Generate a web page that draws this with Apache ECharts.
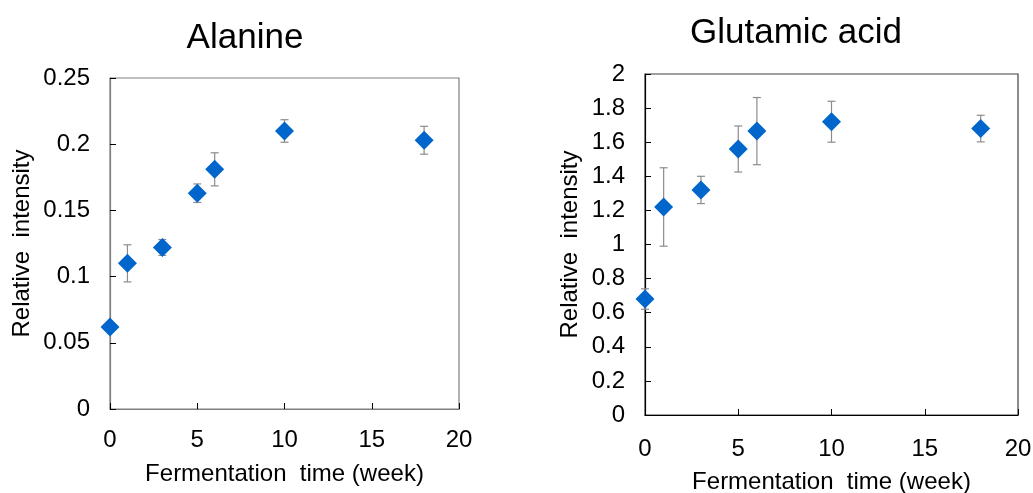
<!DOCTYPE html>
<html>
<head>
<meta charset="utf-8">
<script src="https://cdn.jsdelivr.net/npm/echarts@6/dist/echarts.min.js"></script>
<style>html,body{margin:0;padding:0;background:#fff;}#c{width:1033px;height:493px;}</style>
</head>
<body>
<div id="c"></div>
<script>
const weeks = [0, 1, 3, 5, 6, 10, 18];
const alanineMean = [0.062, 0.110, 0.122, 0.163, 0.181, 0.210, 0.203];
const alanineErr  = [0.002, 0.014, 0.006, 0.007, 0.0125, 0.0085, 0.0105];
const glutamicMean = [0.68, 1.22, 1.32, 1.56, 1.665, 1.72, 1.68];
const glutamicErr  = [0.06, 0.23, 0.08, 0.135, 0.197, 0.12, 0.078];
const titles = ['Alanine', 'Glutamic acid'];
const xName = 'Fermentation  time (week)';
const yName = 'Relative  intensity';

const FONT = 'Liberation Sans, Arial, sans-serif';
const FS = 24;
const chart = echarts.init(document.getElementById('c'));

function errSeries(gi, mean, err) {
  return {
    type: 'custom', xAxisIndex: gi, yAxisIndex: gi, z: 1,
    data: weeks.map((w, i) => [w, mean[i] - err[i], mean[i] + err[i]]),
    renderItem: function (params, api) {
      const x = api.value(0);
      const lo = api.coord([x, api.value(1)]);
      const hi = api.coord([x, api.value(2)]);
      const cw = 4;
      const st = { stroke: '#8c8c8c', lineWidth: 1.2 };
      return {
        type: 'group', children: [
          { type: 'line', shape: { x1: lo[0], y1: lo[1], x2: hi[0], y2: hi[1] }, style: st },
          { type: 'line', shape: { x1: lo[0] - cw, y1: lo[1], x2: lo[0] + cw, y2: lo[1] }, style: st },
          { type: 'line', shape: { x1: hi[0] - cw, y1: hi[1], x2: hi[0] + cw, y2: hi[1] }, style: st }
        ]
      };
    }
  };
}

function yAxis(gi, max, interval, gap, axisColor) {
  return {
    gridIndex: gi, type: 'value', min: 0, max: max, interval: interval,
    name: yName, nameLocation: 'middle', nameGap: gap, nameRotate: 90,
    nameTextStyle: { fontFamily: FONT, fontSize: FS, color: '#000' },
    axisLine: { show: true, lineStyle: { color: axisColor, width: 1.2 } },
    axisTick: { show: true, inside: true, length: 6, lineStyle: { color: '#000' } },
    axisLabel: { fontFamily: FONT, fontSize: FS, color: '#000', margin: 20 },
    splitLine: { show: false }
  };
}
function xAxis(gi, gap, margin, axisColor) {
  return {
    gridIndex: gi, type: 'value', min: 0, max: 20, interval: 5,
    name: xName, nameLocation: 'middle', nameGap: gap,
    nameTextStyle: { fontFamily: FONT, fontSize: FS, color: '#000' },
    axisLine: { show: true, onZero: false, lineStyle: { color: axisColor, width: 1.2 } },
    axisTick: { show: true, inside: true, length: 6, lineStyle: { color: '#000' } },
    axisLabel: { fontFamily: FONT, fontSize: FS, color: '#000', margin: margin,
      formatter: v => String(v) },
    splitLine: { show: false }
  };
}

chart.setOption({
  animation: false,
  title: [
    { text: titles[0], left: 240, top: 16, textAlign: 'center',
      textStyle: { fontFamily: FONT, fontSize: 35, fontWeight: 'normal', color: '#000' } },
    { text: titles[1], left: 791, top: 11, textAlign: 'center',
      textStyle: { fontFamily: FONT, fontSize: 35, fontWeight: 'normal', color: '#000' } }
  ],
  grid: [
    { left: 110, top: 78, width: 349, height: 331, show: true, borderColor: '#7f7f7f', borderWidth: 1.2,
      backgroundColor: 'transparent', containLabel: false, outerBoundsMode: 'none' },
    { left: 645, top: 74, width: 373, height: 341, show: true, borderColor: '#404040', borderWidth: 1.2,
      backgroundColor: 'transparent', containLabel: false, outerBoundsMode: 'none' }
  ],
  xAxis: [xAxis(0, 53, 19, '#7f7f7f'), xAxis(1, 55, 22, '#000')],
  yAxis: [yAxis(0, 0.25, 0.05, 76, '#7f7f7f'), yAxis(1, 2, 0.2, 63, '#000')],
  series: [
    errSeries(0, alanineMean, alanineErr),
    { type: 'scatter', xAxisIndex: 0, yAxisIndex: 0, z: 3, symbol: 'diamond', symbolSize: 19,
      itemStyle: { color: '#0066cc', opacity: 1 }, data: weeks.map((w, i) => [w, alanineMean[i]]) },
    errSeries(1, glutamicMean, glutamicErr),
    { type: 'scatter', xAxisIndex: 1, yAxisIndex: 1, z: 3, symbol: 'diamond', symbolSize: 19,
      itemStyle: { color: '#0066cc', opacity: 1 }, data: weeks.map((w, i) => [w, glutamicMean[i]]) }
  ]
});
</script>
</body>
</html>
